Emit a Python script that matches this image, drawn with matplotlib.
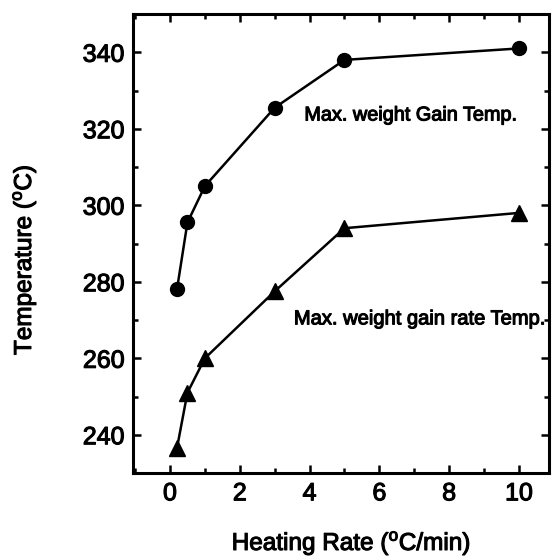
import matplotlib
matplotlib.use("Agg")
import matplotlib.pyplot as plt
import matplotlib.patheffects as pe
from matplotlib.ticker import MultipleLocator

plt.rcParams["font.family"] = ["Liberation Sans", "DejaVu Sans"]
plt.rcParams["mathtext.fontset"] = "custom"
plt.rcParams["mathtext.rm"] = "Liberation Sans"

# Heating rate (degC/min)
heating_rate = [0.2, 0.5, 1, 3, 5, 10]
# Temperature of maximum weight gain
max_gain_temp = [278, 295.5, 305, 325.5, 338, 341]
# Temperature of maximum weight gain rate
max_gain_rate_temp = [236.5, 251, 260, 277.5, 294, 298]

heavy = [pe.withStroke(linewidth=0.8, foreground="black")]

fig = plt.figure(figsize=(5.52, 5.58), dpi=100)
ax = fig.add_axes([133 / 552, 1 - 473 / 558, (549 - 133) / 552, (473 - 14) / 558])

ax.plot(heating_rate, max_gain_temp, color="black", lw=1.8,
        marker="o", markersize=10)
ax.plot(heating_rate, max_gain_rate_temp, color="black", lw=1.8,
        marker="^", markersize=11)

ax.text(3.85, 323.6, "Max. weight Gain Temp.", fontsize=14.3, va="center",
        ha="left", path_effects=heavy)
ax.text(3.55, 270.3, "Max. weight gain rate Temp.", fontsize=14.5, va="center",
        ha="left", path_effects=heavy)

ax.set_xlim(-1.06, 10.86)
ax.set_ylim(230, 350)
ax.xaxis.set_major_locator(MultipleLocator(2))
ax.xaxis.set_minor_locator(MultipleLocator(1))
ax.yaxis.set_major_locator(MultipleLocator(20))
ax.yaxis.set_minor_locator(MultipleLocator(10))

ax.tick_params(which="both", direction="in", top=True, right=True,
               labelsize=18, width=1.8)
ax.tick_params(which="major", length=6, pad=6)
ax.tick_params(which="minor", length=3.5)
for lbl in ax.get_xticklabels() + ax.get_yticklabels():
    lbl.set_path_effects(heavy)
for s in ax.spines.values():
    s.set_linewidth(2.2)

fig.text(24 / 552, 1 - 260 / 558, r"Temperature ($^{\rm o}$C)", rotation=90,
         fontsize=17.5, ha="center", va="center", path_effects=heavy)
fig.text(351 / 552, 1 - 543 / 558, r"Heating Rate ($^{\rm o}$C/min)",
         fontsize=17.5, ha="center", va="center", path_effects=heavy)

fig.savefig("out.png", dpi=100)
